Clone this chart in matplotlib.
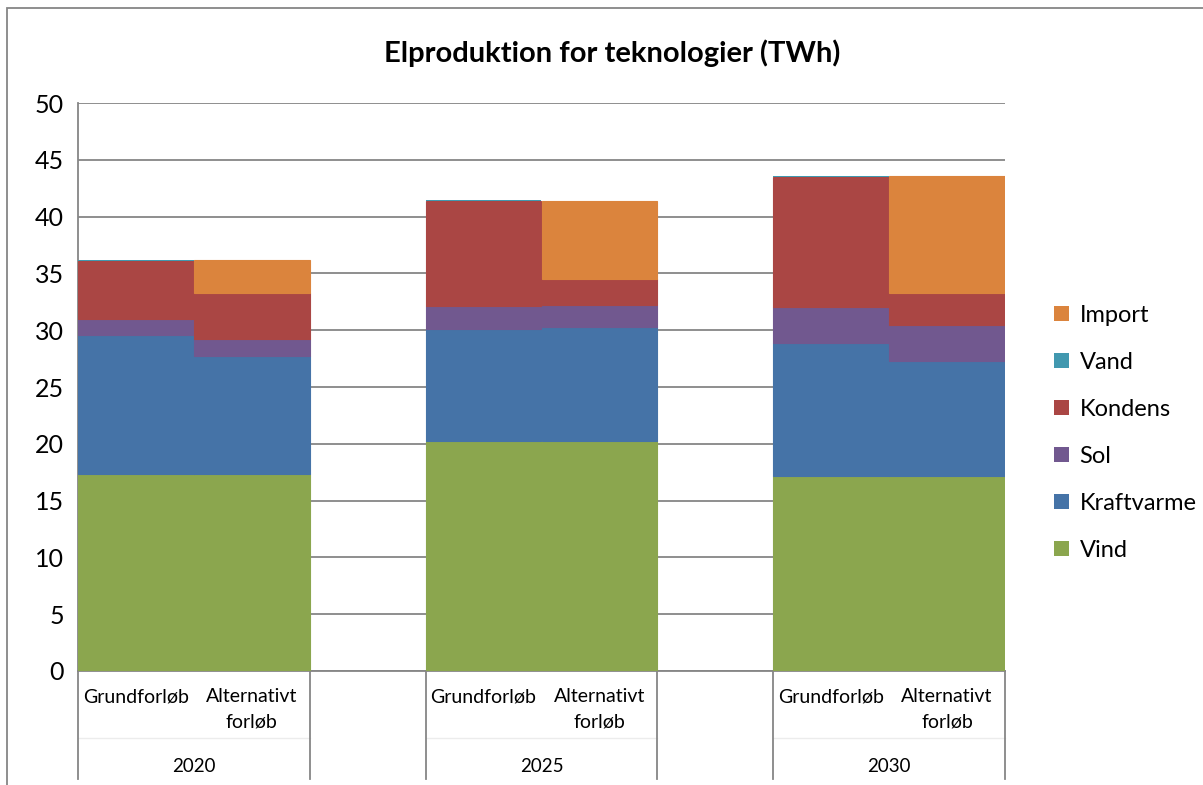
import matplotlib
matplotlib.use("Agg")
import matplotlib.pyplot as plt
from matplotlib.patches import Rectangle, Patch
from matplotlib.transforms import blended_transform_factory

plt.rcParams['font.family'] = ['Lato', 'DejaVu Sans']

years = ["2020", "2025", "2030"]
scenarios = ["Grundforløb", "Alternativt\nforløb"]

series_names = ["Vind", "Kraftvarme", "Sol", "Kondens", "Vand", "Import"]
Vind = [17.3, 17.3, 20.25, 20.25, 17.2, 17.2]
Kraftvarme = [12.3, 10.4, 9.85, 10.0, 11.7, 10.05]
Sol = [1.4, 1.5, 2.0, 2.0, 3.15, 3.2]
Kondens = [5.1, 4.05, 9.3, 2.3, 11.45, 2.8]
Vand = [0.05, 0.0, 0.05, 0.0, 0.05, 0.0]
Import = [0.0, 2.95, 0.0, 6.8, 0.0, 10.3]
series = [Vind, Kraftvarme, Sol, Kondens, Vand, Import]
colors = ["#8BA64E", "#4573A7", "#71588F", "#AA4644", "#4198AF", "#DB843D"]

yticks = list(range(0, 55, 5))

W, H = 1203, 785
fig = plt.figure(figsize=(W / 100, H / 100), dpi=100)
ax = fig.add_axes([78 / W, 1 - 671 / H, (1005 - 78) / W, (671 - 103) / H])

# slot positions: two bars per year, empty slot between groups
positions = []
for g in range(len(years)):
    for s in range(len(scenarios)):
        positions.append(g * 3 + s)

bottom = [0.0] * len(positions)
handles = []
for name, vals, c in zip(series_names, series, colors):
    lws = [0.8 if v > 0.5 else 0.0 for v in vals]
    ax.bar(positions, vals, width=1.0, bottom=bottom, color=c,
           edgecolor=c, linewidth=lws, zorder=3)
    bottom = [b + v for b, v in zip(bottom, vals)]
    handles.append(Patch(facecolor=c, edgecolor='none', label=name))

ax.set_xlim(-0.5, 7.5)
ax.set_ylim(0, 50)
ax.set_yticks(yticks)
ax.set_yticklabels([str(t) for t in yticks], fontsize=18)
ax.tick_params(axis='y', length=0, pad=10)
ax.set_xticks([])
ax.yaxis.grid(True, color="#868686", linewidth=1.3, zorder=0)
for sp in ["top", "right"]:
    ax.spines[sp].set_visible(False)
ax.spines["left"].set_color("#868686")
ax.spines["left"].set_linewidth(1.3)
ax.spines["bottom"].set_color("#868686")
ax.spines["bottom"].set_linewidth(1.3)
ax.set_axisbelow(True)

# category axis labels
trans = blended_transform_factory(ax.transData, ax.transAxes)
axh = 671 - 103
def ay(py):
    return (671 - py) / axh

for p, lab in zip(positions, scenarios * len(years)):
    if "\n" in lab:
        top, bot = lab.split("\n")
        ax.text(p, ay(697), top, transform=trans, ha='center', va='center', fontsize=14)
        ax.text(p, ay(722), bot, transform=trans, ha='center', va='center', fontsize=14)
    else:
        ax.text(p, ay(697), lab, transform=trans, ha='center', va='center', fontsize=14)

for g, yr in enumerate(years):
    ax.text(g * 3 + 0.5, ay(767), yr, transform=trans, ha='center', va='center', fontsize=13.5)
    # faint horizontal separator between levels
    ax.plot([g * 3 - 0.5, g * 3 + 1.5], [ay(738), ay(738)], transform=trans,
            color="#ececec", linewidth=1, clip_on=False)
    for xs in (g * 3 - 0.5, g * 3 + 1.5):
        ax.plot([xs, xs], [0, ay(779)], transform=trans, color="#868686",
                linewidth=1.3, clip_on=False)

fig.suptitle("Elproduktion for teknologier (TWh)", x=612 / W, y=1 - 53 / H,
             va='center', fontsize=21, fontweight='bold')

leg = fig.legend(handles=handles[::-1], loc='center left',
                 bbox_to_anchor=(1045 / W, 1 - 433 / H), frameon=False,
                 fontsize=17, handlelength=0.62, handleheight=0.62,
                 handletextpad=0.45, labelspacing=1.1, borderaxespad=0)

# outer chart border
fig.patches.append(Rectangle((7 / W, -0.1), 1.2, 1 - 8 / H + 0.1,
                             transform=fig.transFigure, fill=False,
                             edgecolor="#868686", linewidth=1.3))

fig.savefig("out.png", dpi=100)
